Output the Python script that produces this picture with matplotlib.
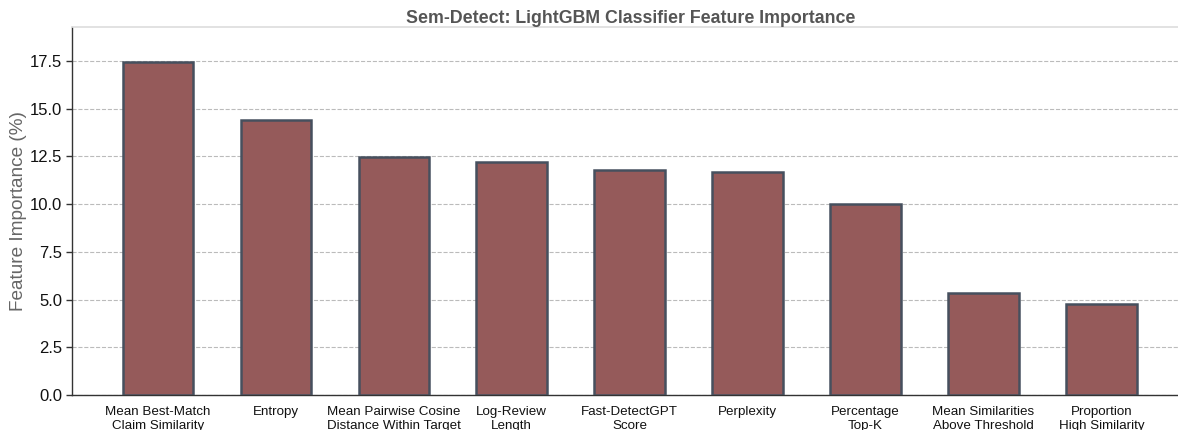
import matplotlib
matplotlib.use("Agg")
import matplotlib.pyplot as plt

features = ["Mean Best-Match\nClaim Similarity", "Entropy", "Mean Pairwise Cosine\nDistance Within Target",
            "Log-Review\nLength", "Fast-DetectGPT\nScore", "Perplexity", "Percentage\nTop-K",
            "Mean Similarities\nAbove Threshold", "Proportion\nHigh Similarity"]
importance = [17.45, 14.41, 12.47, 12.21, 11.79, 11.68, 10.01, 5.34, 4.77]
yticks = [0.0, 2.5, 5.0, 7.5, 10.0, 12.5, 15.0, 17.5]

plt.rcParams['font.family'] = ['Liberation Sans', 'DejaVu Sans']

fig = plt.figure(figsize=(11.78, 4.30), dpi=100)
ax = fig.add_axes([72/1178, 1 - 395/430, 1 - 72/1178 + 0.01, (395-27)/430])

x = list(range(len(features)))
ax.bar(x, importance, width=0.6, color='#955a5a', edgecolor='#46505e', linewidth=1.8, zorder=3)

ax.set_xlim(-0.73, 8.75)
ax.set_ylim(0, 19.28)
ax.set_yticks(yticks)
ax.set_yticklabels([f"{v:.1f}" for v in yticks], fontsize=12, color='#111111')
ax.set_xticks(x)
ax.set_xticklabels(features, fontsize=9.6, color='#111111')
ax.tick_params(axis='x', length=0, pad=8)
ax.tick_params(axis='y', length=4, width=1, color='#333333', pad=3)

ax.grid(axis='y', linestyle='--', color='#bbbbbb', linewidth=0.8, zorder=0)
ax.set_axisbelow(True)

ax.spines['left'].set_color('#333333')
ax.spines['bottom'].set_color('#333333')
ax.spines['left'].set_linewidth(1.0)
ax.spines['bottom'].set_linewidth(1.0)
ax.spines['top'].set_color('#dddddd')
ax.spines['top'].set_linewidth(1.2)
ax.spines['right'].set_visible(False)

ax.set_ylabel("Feature Importance (%)", fontsize=13.7, color='#666666')
ax.yaxis.set_label_coords(-0.040, 0.5)
ax.set_title("Sem-Detect: LightGBM Classifier Feature Importance", fontsize=12.8, fontweight='bold',
             color='#555555', pad=3)

fig.savefig("out.png", dpi=100)
